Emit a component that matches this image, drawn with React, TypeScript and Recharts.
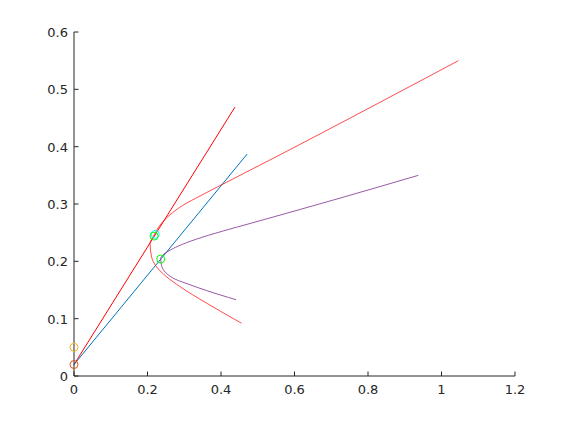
import React from "react";
import { ComposedChart, Line, Scatter, XAxis, YAxis } from "recharts";

const xTicks = [0, 0.2, 0.4, 0.6, 0.8, 1, 1.2];
const yTicks = [0, 0.1, 0.2, 0.3, 0.4, 0.5, 0.6];

const redLine = [
  { x: 0, y: 0.02 },
  { x: 0.438, y: 0.469 },
];
const blueLine = [
  { x: 0, y: 0.02 },
  { x: 0.471, y: 0.387 },
];
const redCurveX = [0.456, 0.361, 0.288, 0.252, 0.225, 0.211, 0.207, 0.218, 0.234, 0.261, 0.297, 0.343, 0.397, 0.47, 0.561, 0.805, 1.046];
const redCurveY = [0.092, 0.127, 0.156, 0.173, 0.19, 0.208, 0.231, 0.246, 0.263, 0.281, 0.298, 0.314, 0.332, 0.356, 0.386, 0.468, 0.55];
const purpleX = [0.441, 0.361, 0.316, 0.275, 0.25, 0.238, 0.236, 0.255, 0.285, 0.33, 0.406, 0.479, 0.706, 0.937];
const purpleY = [0.133, 0.149, 0.159, 0.169, 0.18, 0.193, 0.205, 0.217, 0.227, 0.238, 0.253, 0.266, 0.307, 0.35];

const markers = [
  { x: 0, y: 0.05, color: "#EDB120" },
  { x: 0, y: 0.02, color: "#D95319" },
  { x: 0.221, y: 0.247, color: "#00FFFF" },
  { x: 0.218, y: 0.244, color: "#00FF00" },
  { x: 0.236, y: 0.204, color: "#00FF00" },
];

const redCurve = redCurveX.map((x, i) => ({ x, y: redCurveY[i] }));
const purpleCurve = purpleX.map((x, i) => ({ x, y: purpleY[i] }));

const AX = "#262626";
const FONT = "DejaVu Sans";

const XTick = (props: any) => {
  const { x, y, payload } = props;
  return (
    <g>
      <line x1={x} x2={x} y1={y} y2={y - 4.5} stroke={AX} strokeWidth={1} />
      <text x={x} y={y + 18} textAnchor="middle" fill={AX} fontSize={13} fontFamily={FONT}>
        {String(payload.value)}
      </text>
    </g>
  );
};

const YTick = (props: any) => {
  const { x, y, payload } = props;
  return (
    <g>
      <line x1={x} x2={x + 4.5} y1={y} y2={y} stroke={AX} strokeWidth={1} />
      <text x={x - 6} y={y + 5} textAnchor="end" fill={AX} fontSize={13} fontFamily={FONT}>
        {String(payload.value)}
      </text>
    </g>
  );
};

const Ring = (props: any) => {
  const { cx, cy, payload } = props;
  return <circle cx={cx} cy={cy} r={4} fill="none" stroke={payload.color} strokeWidth={1} />;
};

export default function App() {
  return (
    <div style={{ position: "absolute", left: 0, top: 0, width: 570, height: 422, background: "#fff" }}>
      <ComposedChart width={570} height={422} margin={{ top: 32, right: 55, left: 0, bottom: 0 }}>
        <XAxis
          type="number"
          dataKey="x"
          domain={[0, 1.2]}
          ticks={xTicks}
          height={46}
          tickSize={0}
          tickMargin={0}
          tickLine={false}
          axisLine={{ stroke: AX }}
          tick={<XTick />}
          interval={0}
        />
        <YAxis
          type="number"
          dataKey="y"
          domain={[0, 0.6]}
          ticks={yTicks}
          width={74}
          tickSize={0}
          tickMargin={0}
          tickLine={false}
          axisLine={{ stroke: AX }}
          tick={<YTick />}
          interval={0}
        />
        <Line data={redLine} dataKey="y" type="linear" stroke="#FF0000" strokeWidth={1} dot={false} isAnimationActive={false} />
        <Line data={blueLine} dataKey="y" type="linear" stroke="#0072BD" strokeWidth={1} dot={false} isAnimationActive={false} />
        <Line data={redCurve} dataKey="y" type="monotoneY" stroke="#FF0000" strokeWidth={0.7} dot={false} isAnimationActive={false} />
        <Line data={purpleCurve} dataKey="y" type="monotoneY" stroke="#7E2F8E" strokeWidth={0.8} dot={false} isAnimationActive={false} />
        <Scatter data={markers} dataKey="y" shape={<Ring />} isAnimationActive={false} />
      </ComposedChart>
    </div>
  );
}
